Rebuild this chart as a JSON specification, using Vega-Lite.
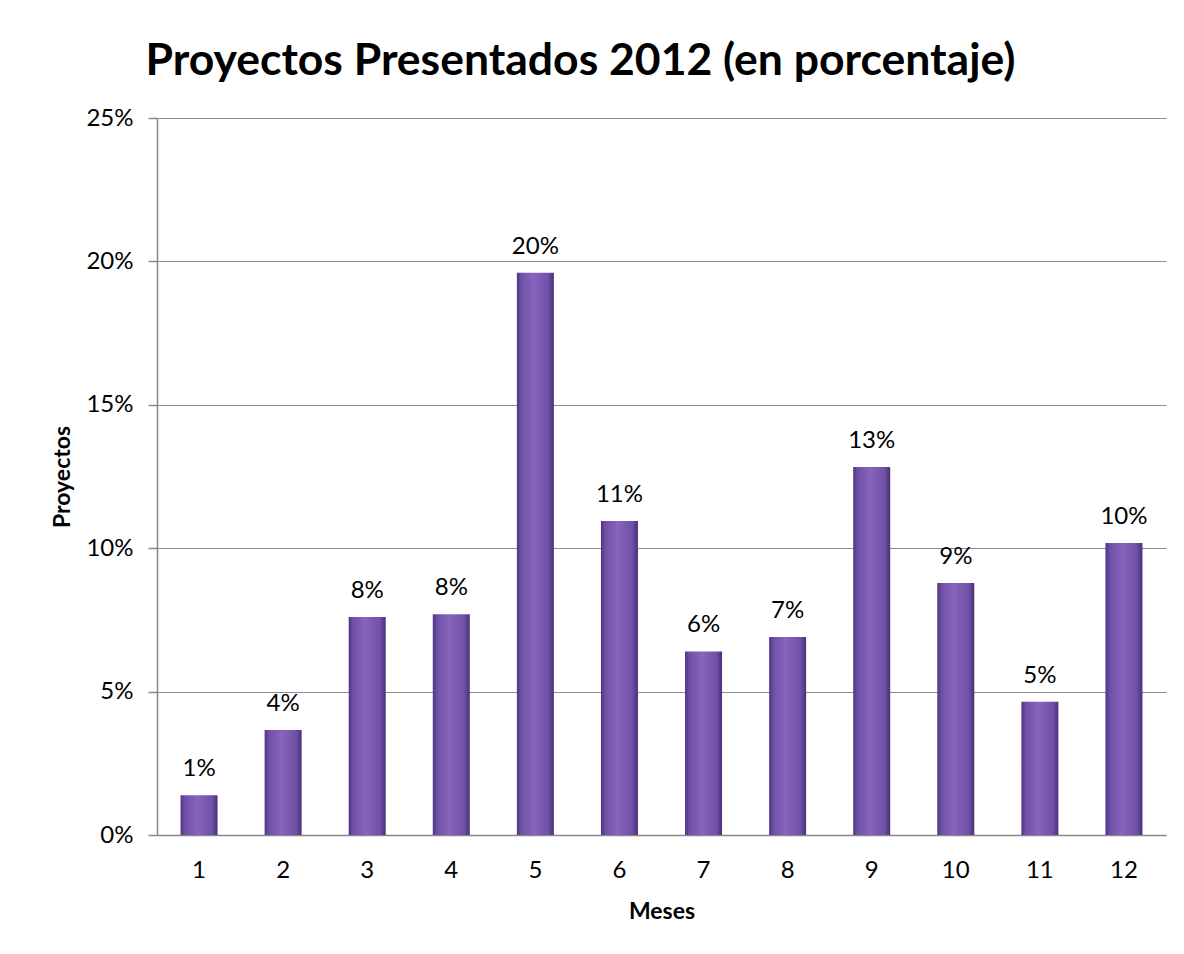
{
  "$schema": "https://vega.github.io/schema/vega-lite/v6.json",
  "autosize": "none",
  "width": 1009,
  "height": 717,
  "padding": {"left": 157, "top": 118, "right": 18, "bottom": 119},
  "background": "white",
  "title": {
    "text": "Proyectos Presentados 2012 (en porcentaje)",
    "font": "Lato",
    "fontSize": 44.5,
    "fontWeight": "bold",
    "color": "#000000",
    "anchor": "middle",
    "dx": -81,
    "offset": 22
  },
  "data": {
    "values": [
      {"mes": "1", "valor": 0.0139},
      {"mes": "2", "valor": 0.0366},
      {"mes": "3", "valor": 0.0760},
      {"mes": "4", "valor": 0.0770},
      {"mes": "5", "valor": 0.1960},
      {"mes": "6", "valor": 0.1095},
      {"mes": "7", "valor": 0.0640},
      {"mes": "8", "valor": 0.0690},
      {"mes": "9", "valor": 0.1283},
      {"mes": "10", "valor": 0.0879},
      {"mes": "11", "valor": 0.0465},
      {"mes": "12", "valor": 0.1018}
    ]
  },
  "config": {
    "view": {"stroke": null},
    "font": "Lato"
  },
  "encoding": {
    "x": {
      "field": "mes",
      "type": "ordinal",
      "sort": null,
      "scale": {"paddingInner": 0.56, "paddingOuter": 0.28},
      "axis": {
        "title": "Meses",
        "titleFont": "Lato",
        "titleFontSize": 23,
        "titleFontWeight": "bold",
        "titleColor": "#000000",
        "titlePadding": 18,
        "labelAngle": 0,
        "labelFont": "Lato",
        "labelFontSize": 24,
        "labelColor": "#000000",
        "labelPadding": 23,
        "ticks": false,
        "tickSize": 0,
        "domainColor": "#888888",
        "domainWidth": 1.5,
        "grid": false
      }
    },
    "y": {
      "field": "valor",
      "type": "quantitative",
      "scale": {"domain": [0, 0.25], "nice": false},
      "axis": {
        "title": "Proyectos",
        "titleFont": "Lato",
        "titleFontSize": 23,
        "titleFontWeight": "bold",
        "titleColor": "#000000",
        "titlePadding": 11,
        "values": [0, 0.05, 0.1, 0.15, 0.2, 0.25],
        "format": ".0%",
        "labelFont": "Lato",
        "labelFontSize": 24,
        "labelColor": "#000000",
        "labelPadding": 15,
        "tickSize": 9,
        "tickColor": "#888888",
        "tickWidth": 1.5,
        "domainColor": "#888888",
        "domainWidth": 1.5,
        "grid": true,
        "gridColor": "#8c8c8c",
        "gridWidth": 1.2
      }
    }
  },
  "layer": [
    {
      "mark": {
        "type": "bar",
        "color": {
          "gradient": "linear",
          "x1": 0, "y1": 0, "x2": 1, "y2": 0,
          "stops": [
            {"offset": 0, "color": "#4f3480"},
            {"offset": 0.12, "color": "#7050a6"},
            {"offset": 0.45, "color": "#8864bd"},
            {"offset": 0.85, "color": "#7050a6"},
            {"offset": 1, "color": "#4a2f78"}
          ]
        }
      }
    },
    {
      "mark": {
        "type": "text",
        "dy": -26,
        "font": "Lato",
        "fontSize": 24,
        "color": "#000000"
      },
      "encoding": {
        "text": {"field": "valor", "type": "quantitative", "format": ".0%"}
      }
    }
  ]
}
